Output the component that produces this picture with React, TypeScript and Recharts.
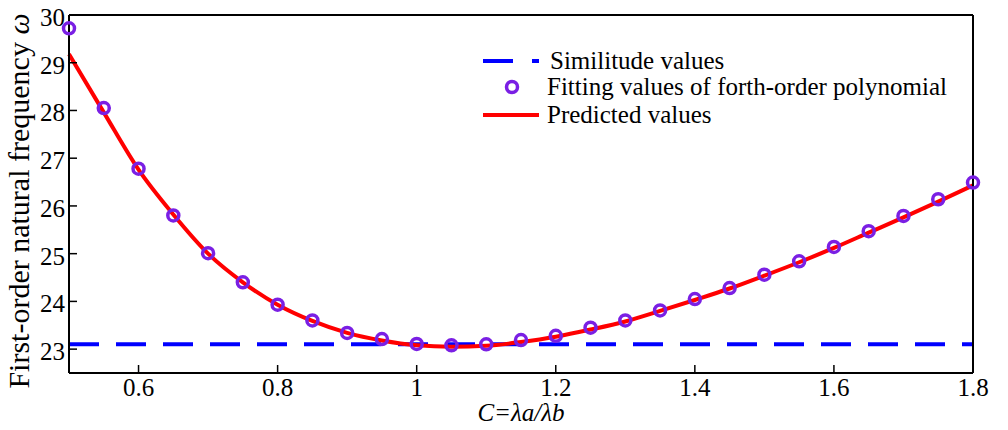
import React from 'react';
import { LineChart, Line, XAxis, YAxis, Legend } from 'recharts';

// C = λa/λb sample points
const C_VALUES = [
  0.5, 0.55, 0.6, 0.65, 0.7, 0.75, 0.8, 0.85, 0.9, 0.95, 1.0, 1.05, 1.1, 1.15,
  1.2, 1.25, 1.3, 1.35, 1.4, 1.45, 1.5, 1.55, 1.6, 1.65, 1.7, 1.75, 1.8,
];

// fourth-order polynomial fit of first-order natural frequency
const FITTED = [
  29.72, 28.05, 26.78, 25.8, 25.01, 24.4, 23.93, 23.6, 23.34, 23.21, 23.11,
  23.08, 23.1, 23.19, 23.28, 23.45, 23.6, 23.81, 24.05, 24.28, 24.56, 24.84,
  25.14, 25.47, 25.79, 26.14, 26.49,
];

// predicted frequency
const PREDICTED = [
  29.18, 27.96, 26.76, 25.82, 25.0, 24.4, 23.93, 23.59, 23.34, 23.18, 23.08,
  23.05, 23.07, 23.15, 23.26, 23.41, 23.58, 23.8, 24.03, 24.27, 24.54, 24.82,
  25.12, 25.44, 25.76, 26.09, 26.43,
];

// similitude value (constant)
const SIMILITUDE = 23.1;

const X_TICKS = [0.6, 0.8, 1.0, 1.2, 1.4, 1.6, 1.8];
const Y_TICKS = [23, 24, 25, 26, 27, 28, 29, 30];
const Y_TICKS_RIGHT = [23, 24, 25, 26, 26.77, 27.77, 28.78];

const data = C_VALUES.map((c, i) => ({
  c,
  fit: FITTED[i],
  pred: PREDICTED[i],
  sim: SIMILITUDE,
}));

const FONT = 'Liberation Serif';
const BLUE = '#0000ff';
const RED = '#ff0000';
const PURPLE = '#7a1fe4';
const DASH = '30 17';

const fmtX = (v: number) => (v === 1 ? '1' : String(v));

function XTitle({ viewBox }: any) {
  const cx = viewBox.x + viewBox.width / 2;
  return (
    <text
      x={cx}
      y={viewBox.y + 48}
      textAnchor="middle"
      fontSize={25}
      fontStyle="italic"
      fill="#000"
      style={{ fontFamily: FONT }}
    >
      C=λa/λb
    </text>
  );
}

function YTitle() {
  const x = 29;
  const y = 201;
  return (
    <text
      x={x}
      y={y}
      transform={`rotate(-90, ${x}, ${y})`}
      textAnchor="middle"
      fontSize={30}
      fill="#000"
      style={{ fontFamily: FONT }}
    >
      First-order natural frequency <tspan fontStyle="italic">ω</tspan>
    </text>
  );
}

function LegendBox() {
  const rows = [21, 47, 75];
  return (
    <svg width={530} height={95} style={{ display: 'block' }}>
      <line x1={13} x2={69} y1={rows[0]} y2={rows[0]} stroke={BLUE} strokeWidth={4} strokeDasharray="30 19" />
      <circle cx={42} cy={rows[1]} r={5.5} fill="none" stroke={PURPLE} strokeWidth={3.5} />
      <line x1={13} x2={69} y1={rows[2]} y2={rows[2]} stroke={RED} strokeWidth={4} />
      <text fontSize={25} fill="#000" style={{ fontFamily: FONT }}>
        <tspan x={80} y={rows[0] + 8}>Similitude values</tspan>
        <tspan x={77} y={rows[1] + 8}>Fitting values of forth-order polynomial</tspan>
        <tspan x={77} y={rows[2] + 8}>Predicted values</tspan>
      </text>
    </svg>
  );
}

export default function App() {
  const tickStyle = { fontSize: 25, fill: '#000', style: { fontFamily: FONT } };
  const axisLine = { stroke: '#000', strokeWidth: 2 };
  const tickLine = { stroke: '#000', strokeWidth: 1.5 };

  return (
    <div style={{ position: 'absolute', left: 0, top: 0, width: 1008, height: 430, background: '#fff', fontFamily: FONT }}>
      <LineChart width={1008} height={430} data={data} margin={{ top: 0, right: 0, bottom: 0, left: 0 }}>
        <XAxis
          dataKey="c"
          type="number"
          domain={[0.5, 1.8]}
          ticks={X_TICKS}
          tickFormatter={fmtX}
          height={57}
          axisLine={axisLine}
          tickLine={tickLine}
          tickSize={-8}
          tickMargin={13}
          tick={tickStyle}
          label={<XTitle />}
        />
        <XAxis
          xAxisId="top"
          orientation="top"
          type="number"
          domain={[0.5, 1.8]}
          allowDataOverflow
          ticks={X_TICKS}
          height={15}
          axisLine={axisLine}
          tickLine={tickLine}
          tickSize={-8}
          tick={false}
        />
        <YAxis
          type="number"
          domain={[22.5, 30]}
          ticks={Y_TICKS}
          width={69}
          axisLine={axisLine}
          tickLine={tickLine}
          tickSize={-8}
          tickMargin={12}
          tick={{ ...tickStyle, dy: 2 }}
          label={<YTitle />}
        />
        <YAxis
          yAxisId="right"
          orientation="right"
          type="number"
          domain={[22.5, 30]}
          allowDataOverflow
          ticks={Y_TICKS_RIGHT}
          width={35}
          axisLine={axisLine}
          tickLine={tickLine}
          tickSize={-8}
          tick={false}
        />
        <Legend
          layout="vertical"
          align="center"
          verticalAlign="middle"
          content={<LegendBox />}
          wrapperStyle={{ left: 470, top: 40, width: 530 }}
        />
        <Line
          dataKey="sim"
          type="linear"
          stroke={BLUE}
          strokeWidth={4}
          strokeDasharray={DASH}
          dot={false}
          isAnimationActive={false}
        />
        <Line
          dataKey="fit"
          type="linear"
          stroke="none"
          dot={{ r: 5.5, fill: 'none', stroke: PURPLE, strokeWidth: 3.5 }}
          isAnimationActive={false}
        />
        <Line
          dataKey="pred"
          type="monotone"
          stroke={RED}
          strokeWidth={4}
          dot={false}
          isAnimationActive={false}
        />
      </LineChart>
    </div>
  );
}
